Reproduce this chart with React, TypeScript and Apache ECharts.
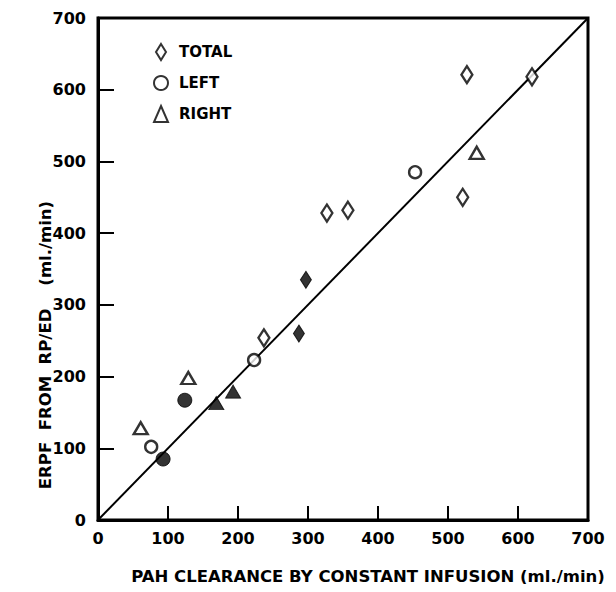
import React, { useEffect, useRef } from "react";
import * as echarts from "echarts";

const xTicks = [0, 100, 200, 300, 400, 500, 600, 700];
const yTicks = [0, 100, 200, 300, 400, 500, 600, 700];

const totalOpen: number[][] = [
  [237, 254], [327, 428], [357, 432], [521, 450], [527, 621], [620, 618],
];
const totalFilled: number[][] = [
  [287, 260], [297, 335],
];
const leftOpen: number[][] = [
  [76, 102], [223, 223], [453, 485],
];
const leftFilled: number[][] = [
  [93, 85], [124, 167],
];
const rightOpen: number[][] = [
  [61, 128], [129, 198], [541, 512],
];
const rightFilled: number[][] = [
  [169, 163], [193, 179],
];
const identityLine: number[][] = [
  [0, 0], [700, 700],
];

const xTitle = "PAH CLEARANCE BY CONSTANT INFUSION (ml./min)";
const yTitle = "ERPF  FROM  RP/ED    (ml./min)";
const legendNames = ["TOTAL", "LEFT", "RIGHT"];

const DIAMOND = "path://M5 0 L10 8 L5 16 L0 8 Z";
const FONT = "DejaVu Sans";

export default function App() {
  const ref = useRef<HTMLDivElement>(null);
  useEffect(() => {
    if (!ref.current) return;
    const chart = echarts.init(ref.current, null, { renderer: "svg" });
    const openStyle = { color: "#fff", borderColor: "#000", borderWidth: 2.4 };
    const filledStyle = { color: "#000", borderColor: "#000", borderWidth: 1 };
    chart.setOption({
      animation: false,
      backgroundColor: "#fff",
      grid: {
        left: 98, top: 18, width: 490, height: 502,
        show: true, borderColor: "#000", borderWidth: 3, backgroundColor: "transparent",
      },
      legend: {
        data: legendNames,
        orient: "vertical",
        left: 148,
        top: 38,
        itemGap: 14,
        itemWidth: 14,
        itemHeight: 16,
        textStyle: { fontFamily: FONT, fontSize: 15, fontWeight: "bold", color: "#000", padding: [0, 0, 0, 6] },
      },
      xAxis: {
        type: "value", min: xTicks[0], max: xTicks[xTicks.length - 1], interval: 100,
        axisLine: { lineStyle: { color: "#000", width: 3 } },
        axisTick: { inside: true, length: 14, lineStyle: { color: "#000", width: 2 } },
        splitLine: { show: false },
        axisLabel: { color: "#000", fontFamily: FONT, fontSize: 16, fontWeight: "bold", margin: 10 },
      },
      yAxis: {
        type: "value", min: yTicks[0], max: yTicks[yTicks.length - 1], interval: 100,
        axisLine: { lineStyle: { color: "#000", width: 3 } },
        axisTick: { inside: true, length: 16, lineStyle: { color: "#000", width: 2 } },
        splitLine: { show: false },
        axisLabel: { color: "#000", fontFamily: FONT, fontSize: 16, fontWeight: "bold", margin: 12 },
      },
      graphic: [
        {
          type: "text", x: 368, y: 576,
          style: { text: xTitle, fontFamily: FONT, fontSize: 16.5, fontWeight: "bold", fill: "#000", align: "center", verticalAlign: "middle" },
        },
        {
          type: "text", x: 45, y: 345, rotation: Math.PI / 2,
          style: { text: yTitle, fontFamily: FONT, fontSize: 16.5, fontWeight: "bold", fill: "#000", align: "center", verticalAlign: "middle" },
        },
      ],
      series: [
        {
          type: "line", data: identityLine, symbol: "none", silent: true,
          lineStyle: { color: "#000", width: 2 }, z: 1,
        },
        { name: "TOTAL", type: "scatter", data: totalOpen, symbol: DIAMOND, symbolSize: [11, 17], itemStyle: openStyle, z: 3 },
        { name: "TOTAL (filled)", type: "scatter", data: totalFilled, symbol: DIAMOND, symbolSize: [11, 17], itemStyle: filledStyle, z: 3 },
        { name: "LEFT", type: "scatter", data: leftOpen, symbol: "circle", symbolSize: 12, itemStyle: openStyle, z: 3 },
        { name: "LEFT (filled)", type: "scatter", data: leftFilled, symbol: "circle", symbolSize: 14, itemStyle: filledStyle, z: 3 },
        { name: "RIGHT", type: "scatter", data: rightOpen, symbol: "triangle", symbolSize: [14, 12], itemStyle: openStyle, z: 3 },
        { name: "RIGHT (filled)", type: "scatter", data: rightFilled, symbol: "triangle", symbolSize: [15, 13], itemStyle: filledStyle, z: 3 },
      ],
    });
    return () => chart.dispose();
  }, []);
  return <div ref={ref} style={{ width: 616, height: 592, margin: "-8px" }} />;
}
